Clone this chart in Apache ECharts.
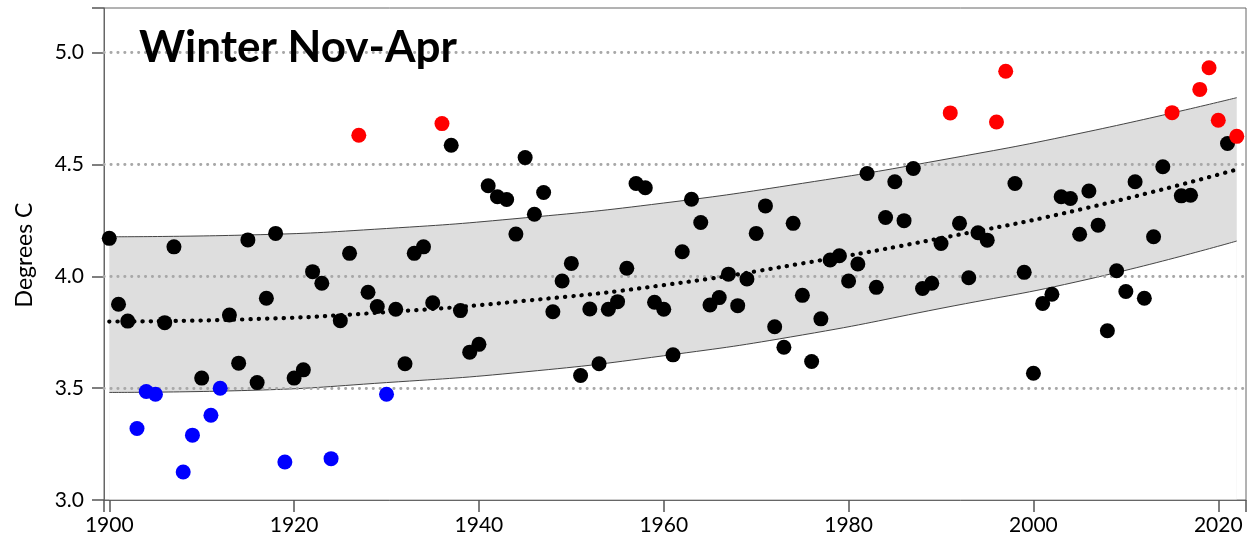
<!DOCTYPE html>
<html>
<head>
<meta charset="utf-8">
<script src="https://cdn.jsdelivr.net/npm/echarts@6/dist/echarts.min.js"></script>
<style>
html,body{margin:0;padding:0;background:#fff;}
#chart{width:1252px;height:541px;}
</style>
</head>
<body>
<div id="chart"></div>
<script>
const firstYear = 1900;
const values = [
  4.17, 3.875, 3.80, 3.32, 3.485, 3.473, 3.793, 4.132, 3.125, 3.29,
  3.545, 3.379, 3.50, 3.827, 3.612, 4.163, 3.525, 3.902, 4.192, 3.17,
  3.545, 3.582, 4.021, 3.969, 3.185, 3.802, 4.103, 4.631, 3.929, 3.865,
  3.473, 3.853, 3.609, 4.103, 4.132, 3.882, 4.683, 4.586, 3.847, 3.661,
  3.696, 4.405, 4.356, 4.344, 4.189, 4.531, 4.278, 4.375, 3.842, 3.979,
  4.058, 3.557, 3.854, 3.609, 3.853, 3.887, 4.036, 4.415, 4.396, 3.884,
  3.853, 3.649, 4.110, 4.345, 4.241, 3.872, 3.905, 4.010, 3.869, 3.988,
  4.192, 4.315, 3.775, 3.683, 4.237, 3.915, 3.619, 3.810, 4.073, 4.092,
  3.979, 4.055, 4.460, 3.951, 4.263, 4.423, 4.249, 4.482, 3.946, 3.969,
  4.147, 4.731, 4.237, 3.994, 4.195, 4.162, 4.690, 4.917, 4.415, 4.018,
  3.567, 3.879, 3.920, 4.356, 4.348, 4.188, 4.382, 4.229, 3.757, 4.025,
  3.932, 4.423, 3.902, 4.177, 4.490, 4.732, 4.360, 4.363, 4.836, 4.933,
  4.698, 4.594, 4.626
];
const redYears = [1927, 1936, 1991, 1996, 1997, 2015, 2018, 2019, 2020, 2022];
const blueYears = [1903, 1904, 1905, 1908, 1909, 1911, 1912, 1919, 1924, 1930];

const curveYears = [1900, 1915, 1930, 1945, 1960, 1975, 1990, 2006, 2022];
const upperBand  = [4.177, 4.185, 4.214, 4.262, 4.328, 4.416, 4.520, 4.648, 4.799];
const lowerBand  = [3.481, 3.490, 3.525, 3.573, 3.645, 3.738, 3.857, 3.988, 4.158];
const trendLine  = [3.798, 3.808, 3.840, 3.891, 3.961, 4.058, 4.171, 4.308, 4.478];

const xTicks = [1900, 1920, 1940, 1960, 1980, 2000, 2020];
const yTicks = [3.0, 3.5, 4.0, 4.5, 5.0];
const gridValues = [3.5, 4.0, 4.5, 5.0];
const titleText = 'Winter Nov-Apr';
const yTitle = 'Degrees C';

const blackPts = [], redPts = [], bluePts = [];
values.forEach((v, i) => {
  const yr = firstYear + i;
  if (redYears.includes(yr)) redPts.push([yr, v]);
  else if (blueYears.includes(yr)) bluePts.push([yr, v]);
  else blackPts.push([yr, v]);
});
const upperData = curveYears.map((y, i) => [y, upperBand[i]]);
const lowerData = curveYears.map((y, i) => [y, lowerBand[i]]);
const trendData = curveYears.map((y, i) => [y, trendLine[i]]);

const FONT = 'Lato';
const frameColor = '#666';
const tickColor = '#555';
const X_MIN = 1899.43, X_MAX = 2023;
const Y_MIN = 3.0, Y_MAX = 5.2;

const chart = echarts.init(document.getElementById('chart'), null, {renderer: 'canvas'});
chart.setOption({
  animation: false,
  backgroundColor: '#fff',
  title: {
    text: titleText,
    left: 134, top: 21,
    textStyle: {fontFamily: FONT, fontWeight: 'bold', fontSize: 44, color: '#000'}
  },
  graphic: [{
    type: 'text',
    x: 25, y: 255,
    rotation: Math.PI / 2,
    style: {text: yTitle, fontFamily: FONT, fontSize: 23, fill: '#000', align: 'center', verticalAlign: 'middle'}
  }],
  grid: {
    left: 104, right: 6, top: 8, bottom: 41,
    show: true, borderColor: frameColor, borderWidth: 1, backgroundColor: 'transparent'
  },
  xAxis: {
    type: 'value',
    min: X_MIN, max: X_MAX,
    minInterval: 20, maxInterval: 20,
    axisLine: {show: true, lineStyle: {color: frameColor, width: 1}},
    axisTick: {show: true, inside: false, length: 12, lineStyle: {color: tickColor, width: 1.5}},
    axisLabel: {customValues: xTicks, fontFamily: FONT, fontSize: 21, color: '#000', margin: 15,
      formatter: v => String(v)},
    splitLine: {show: false}
  },
  yAxis: {
    type: 'value',
    min: Y_MIN, max: Y_MAX,
    interval: 0.5,
    axisLine: {show: true, lineStyle: {color: frameColor, width: 1}},
    axisTick: {show: true, inside: false, length: 12, lineStyle: {color: tickColor, width: 1.5}},
    axisLabel: {customValues: yTicks, fontFamily: FONT, fontSize: 21, color: '#000', margin: 20,
      formatter: v => v.toFixed(1)},
    splitLine: {show: false}
  },
  series: [
    {
      type: 'line', name: 'upper', data: upperData, smooth: true,
      symbol: 'none', lineStyle: {color: '#444', width: 1},
      areaStyle: {color: '#dedede', opacity: 1, origin: Y_MIN + 0.003}, z: 1, silent: true
    },
    {
      type: 'line', name: 'lower', data: lowerData, smooth: true,
      symbol: 'none', lineStyle: {color: '#444', width: 1},
      areaStyle: {color: '#ffffff', opacity: 1, origin: Y_MIN + 0.003}, z: 2, silent: true,
      markLine: {
        silent: true, symbol: 'none', label: {show: false},
        lineStyle: {color: '#a8a8a8', width: 2.8, type: [0.3, 6.6], cap: 'round'},
        data: gridValues.map(v => ({yAxis: v}))
      }
    },
    {
      type: 'line', name: 'trend', data: trendData, smooth: true, symbol: 'none',
      lineStyle: {color: '#000', width: 4.2, type: [0.3, 8], cap: 'round'}, z: 6
    },
    {type: 'scatter', data: blackPts, symbolSize: 15, itemStyle: {color: '#000', opacity: 1}, z: 10},
    {type: 'scatter', data: redPts, symbolSize: 15, itemStyle: {color: '#ff0000', opacity: 1}, z: 10},
    {type: 'scatter', data: bluePts, symbolSize: 15, itemStyle: {color: '#0000ff', opacity: 1}, z: 10}
  ]
});
</script>
</body>
</html>
